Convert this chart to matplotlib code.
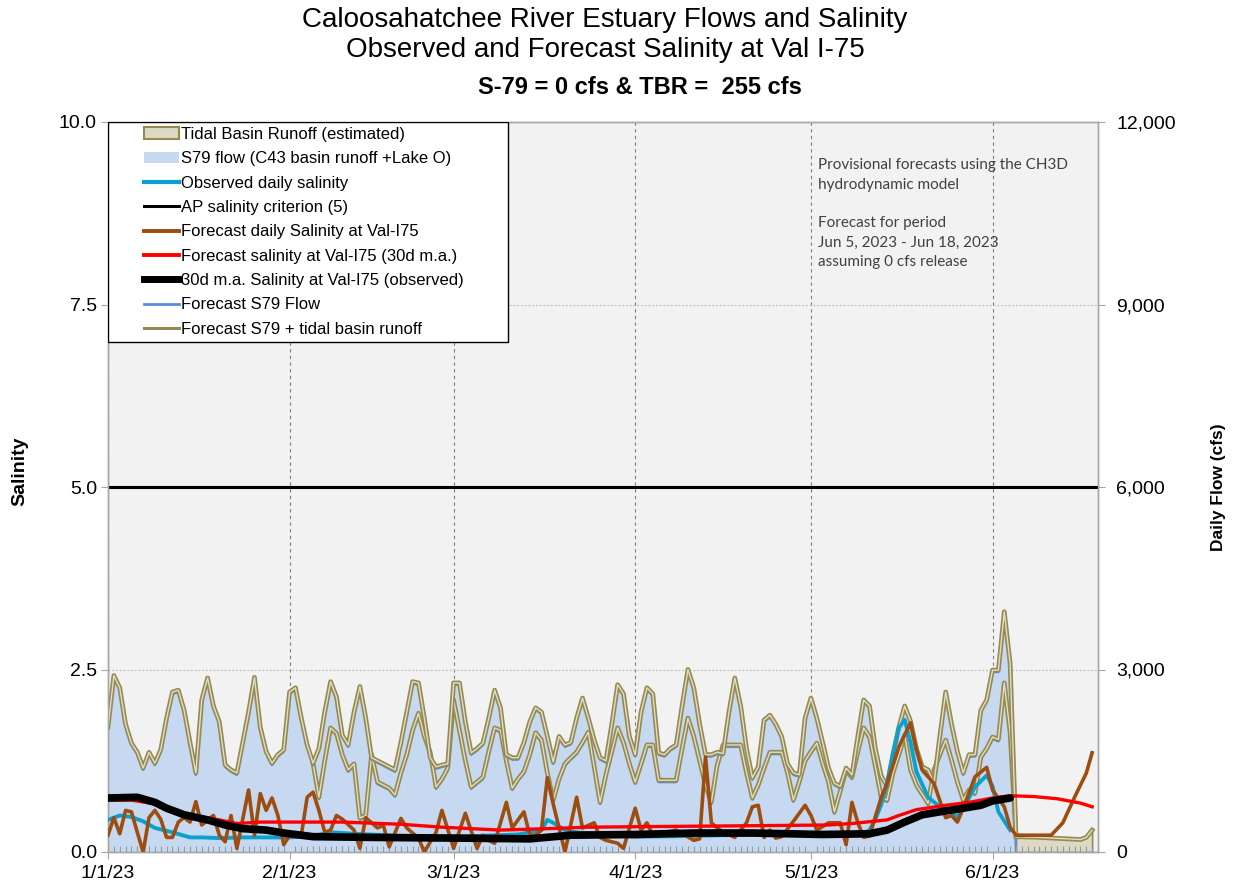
import numpy as np
import pandas as pd
import matplotlib
matplotlib.use("Agg")
import matplotlib.pyplot as plt
import matplotlib.dates as mdates
from matplotlib.patches import Patch, Rectangle
from matplotlib.lines import Line2D
from matplotlib.ticker import StrMethodFormatter
from matplotlib.transforms import offset_copy

plt.rcParams['font.family'] = ['Liberation Sans', 'DejaVu Sans']

# data (day offsets from 1/1/23)
start = pd.Timestamp('2023-01-01')

# S79 flow (observed, cfs), one value per day from day 0 to day 154
s79_flow = [2050, 2900, 2700, 2100, 1790, 1640, 1380, 1640, 1460, 1680,
            2200, 2630, 2660, 2330, 1800, 1300, 2500, 2860, 2400, 2140,
            1430, 1350, 1300, 1800, 2300, 2870, 2050, 1650, 1460, 1600,
            1680, 2630, 2700, 2200, 1760, 1460, 1700, 2300, 2800, 2550,
            1920, 1760, 2300, 2720, 2200, 1550, 1500, 1450, 1400, 1350,
            1800, 2300, 2800, 2780, 2200, 1550, 1400, 1430, 1450, 2780,
            2780, 2140, 1630, 1700, 1790, 2200, 2660, 2370, 1600, 1550,
            1550, 1800, 2140, 2370, 2300, 1900, 1480, 1900, 1760, 1800,
            2200, 2530, 2200, 1840, 1550, 1500, 2100, 2750, 2600, 1900,
            1600, 2300, 2700, 2600, 1630, 1600, 1700, 1760, 2400, 3000,
            2700, 2100, 1600, 1600, 1640, 1620, 2300, 2860, 2400, 1700,
            1220, 1400, 2170, 2250, 2100, 1900, 1450, 1300, 1270, 2200,
            2530, 2200, 1800, 1380, 1130, 1080, 1380, 1270, 1900, 2500,
            2400, 1700, 1250, 1080, 1600, 2050, 2400, 2150, 1700, 1400,
            1350, 1130, 1900, 2630, 2100, 1650, 1300, 1600, 1600, 2330,
            2500, 2990, 2990, 3950, 3100]
s79_days = list(range(0, 155))

# second flow trace (cfs), day 35 to day 155
flow_b = [1460, 900, 1500, 2040, 1950, 1600, 1350, 1450, 560, 600,
          1600, 1150, 1100, 1050, 940, 1300, 1600, 2000, 2280, 1900,
          1640, 1070, 1200, 1380, 2500, 2000, 1500, 1070, 1150, 1230,
          1650, 2040, 2000, 1500, 1050, 1200, 1320, 1600, 1960, 1840,
          1300, 855, 1200, 1450, 1550, 1640, 1800, 1970, 1400, 820,
          1270, 1650, 2040, 1800, 1450, 1150, 1450, 1760, 1760, 1180,
          1180, 1180, 1180, 1700, 2200, 1900, 1500, 1100, 820, 1430,
          1760, 1760, 1760, 1760, 1300, 890, 1100, 1380, 1640, 1640,
          1640, 1300, 855, 1150, 1500, 1650, 1790, 1450, 1150, 660,
          1000, 1350, 1230, 1650, 2040, 1890, 1400, 900, 855, 1300,
          1600, 1920, 1350, 1100, 950, 800, 1350, 1600, 1840, 1510,
          1150, 855, 1020, 970, 1560, 1700, 1890, 1850, 2780, 1960, 250]
flow_b_days = list(range(35, 156))

# forecast period: S79 = 0, tidal basin runoff (cfs)
fc_days = list(range(155, 169))
fc_s79 = [0, 0, 0, 0, 0, 0, 0, 0, 0, 0, 0, 0, 0, 0]
fc_tbr = [250, 250, 245, 245, 240, 235, 230, 225, 220, 215, 210, 205, 240, 360]

# observed daily salinity
obs_days = [0, 2, 4, 6, 8, 11, 14, 16, 19, 23, 31, 35, 38, 42, 50, 60, 70, 74,
            75, 76, 78, 80, 90, 100, 110, 120, 126, 129, 130, 131, 132, 133,
            134, 135, 136, 137, 138, 140, 142, 144, 145, 146, 148, 150, 151,
            152, 154]
obs_sal = [0.44, 0.5, 0.48, 0.42, 0.33, 0.27, 0.2, 0.2, 0.19, 0.2, 0.2, 0.22,
           0.27, 0.25, 0.22, 0.21, 0.24, 0.3, 0.44, 0.4, 0.3, 0.27, 0.21, 0.22,
           0.24, 0.25, 0.22, 0.26, 0.3, 0.45, 0.65, 0.95, 1.35, 1.7, 1.81, 1.5,
           1.1, 0.75, 0.62, 0.55, 0.48, 0.6, 0.89, 1.05, 0.9, 0.55, 0.3]

# forecast daily salinity at Val-I75
fd_days = [0, 1, 2, 3, 4, 5, 6, 7, 8, 9, 10, 11, 12, 13, 14, 15, 16, 18, 19,
           20, 21, 22, 24, 25, 26, 27, 28, 29, 30, 31, 33, 34, 35, 36, 37, 38,
           39, 40, 42, 43, 44, 45, 46, 47, 48, 50, 51, 53, 54, 56, 57, 59, 61,
           63, 64, 65, 66, 68, 69, 71, 72, 73, 74, 75, 76, 78, 80, 81, 83, 84,
           85, 87, 88, 90, 91, 92, 93, 95, 97, 100, 101, 102, 103, 104, 105,
           107, 109, 110, 111, 112, 113, 114, 115, 117, 119, 120, 121, 123,
           125, 126, 127, 128, 129, 130, 132, 133, 135, 137, 138, 139, 141,
           143, 144, 145, 146, 148, 150, 151, 153, 154, 155, 161, 163, 165,
           167, 168]
fd_sal = [0.23, 0.47, 0.25, 0.57, 0.55, 0.27, 0.0, 0.47, 0.57, 0.45, 0.2, 0.2,
          0.41, 0.47, 0.41, 0.69, 0.37, 0.5, 0.23, 0.14, 0.5, 0.05, 0.85, 0.23,
          0.8, 0.57, 0.74, 0.5, 0.1, 0.23, 0.23, 0.75, 0.82, 0.57, 0.27, 0.3,
          0.5, 0.45, 0.3, 0.05, 0.47, 0.4, 0.33, 0.37, 0.07, 0.46, 0.33, 0.19,
          0.0, 0.27, 0.57, 0.05, 0.53, 0.05, 0.23, 0.16, 0.12, 0.68, 0.33,
          0.55, 0.23, 0.23, 0.3, 1.02, 0.66, 0.0, 0.75, 0.33, 0.4, 0.2, 0.16,
          0.12, 0.05, 0.6, 0.3, 0.4, 0.23, 0.27, 0.3, 0.16, 0.18, 1.3, 0.4,
          0.33, 0.27, 0.2, 0.4, 0.62, 0.64, 0.2, 0.3, 0.19, 0.21, 0.42, 0.64,
          0.5, 0.3, 0.4, 0.4, 0.1, 0.68, 0.4, 0.2, 0.22, 0.75, 0.94, 1.44,
          1.77, 1.4, 1.12, 0.94, 0.47, 0.5, 0.41, 0.6, 1.03, 1.16, 0.85, 0.62,
          0.34, 0.23, 0.23, 0.4, 0.75, 1.08, 1.36]

# forecast salinity 30d moving average
fma_days = [0, 4, 8, 10, 13, 16, 19, 22, 26, 40, 50, 57, 67, 75, 82, 95, 110,
            123, 127, 133, 135, 138, 143, 147, 151, 154, 158, 162, 166, 168]
fma_sal = [0.71, 0.71, 0.66, 0.6, 0.53, 0.48, 0.44, 0.39, 0.41, 0.41, 0.38,
           0.34, 0.3, 0.32, 0.34, 0.35, 0.36, 0.37, 0.39, 0.44, 0.5, 0.58,
           0.64, 0.68, 0.74, 0.77, 0.76, 0.73, 0.67, 0.62]

# observed salinity 30d moving average
oma_days = [0, 5, 8, 10, 13, 17, 20, 23, 27, 30, 35, 45, 60, 72, 79, 90, 100,
            110, 122, 130, 133, 136, 139, 142, 146, 149, 151, 154]
oma_sal = [0.74, 0.75, 0.68, 0.6, 0.51, 0.44, 0.37, 0.32, 0.3, 0.26, 0.21, 0.2,
           0.19, 0.18, 0.23, 0.24, 0.26, 0.26, 0.24, 0.25, 0.3, 0.41, 0.51,
           0.55, 0.6, 0.64, 0.7, 0.74]

ap_criterion = 5.0

legend_labels = ['Tidal Basin Runoff (estimated)',
                 'S79 flow (C43 basin runoff +Lake O)',
                 'Observed daily salinity',
                 'AP salinity criterion (5)',
                 'Forecast daily Salinity at Val-I75',
                 'Forecast salinity at Val-I75 (30d m.a.)',
                 '30d m.a. Salinity at Val-I75 (observed)',
                 'Forecast S79 Flow',
                 'Forecast S79 + tidal basin runoff']

note = ("Provisional forecasts using the CH3D\nhydrodynamic model\n\n"
        "Forecast for period\nJun 5, 2023 - Jun 18, 2023\nassuming 0 cfs release")


def to_dates(days):
    return start + pd.to_timedelta(np.asarray(days), unit='D')


OLIVE = '#948a54'
OLIVE_IN = '#e4ddc2'
BLUE = '#558ed5'
FILL = '#c6d9f0'
TAN = '#ddd9c3'
CYAN = '#0aa0d2'
BROWN = '#9c4d0f'
GRID = '#a6a6a6'
NARROW = ['Liberation Sans Narrow', 'Liberation Sans']

fig = plt.figure(figsize=(12.39, 8.92), dpi=100)
ax = fig.add_axes([108 / 1239, 40 / 892, 990 / 1239, 730 / 892])
ax2 = ax.twinx()

ax.set_facecolor('#f2f2f2')
ax.set_axisbelow(True)

# flows on ax (behind)
all_days = s79_days + fc_days
all_s79 = s79_flow + fc_s79
total_flow = s79_flow + fc_tbr

ax.fill_between(to_dates(all_days), 0, all_s79, color=FILL, lw=0, zorder=1)
ax.fill_between(to_dates(fc_days), 0, fc_tbr, facecolor=TAN, edgecolor=OLIVE,
                lw=1.2, zorder=1)

below = offset_copy(ax.transData, fig=fig, x=0, y=-2, units='dots')
ax.plot(to_dates(flow_b_days), flow_b, color=BLUE, lw=1.6, transform=below, zorder=2)
ax.plot(to_dates(flow_b_days), flow_b, color=OLIVE, lw=3.4, zorder=2)
ax.plot(to_dates(flow_b_days), flow_b, color=OLIVE_IN, lw=1.0, zorder=2)
ax.plot(to_dates(all_days), all_s79, color=BLUE, lw=1.6, transform=below, zorder=3)
ax.plot(to_dates(all_days), total_flow, color=OLIVE, lw=3.4, zorder=3)
ax.plot(to_dates(all_days), total_flow, color=OLIVE_IN, lw=1.0, zorder=3)

# salinity on ax2
ax2.axhline(ap_criterion, color='black', lw=2.2, zorder=2)
ax2.plot(to_dates(obs_days), obs_sal, color=CYAN, lw=2.8, zorder=3)
ax2.plot(to_dates(fd_days), fd_sal, color=BROWN, lw=2.6, zorder=4)
ax2.plot(to_dates(fma_days), fma_sal, color='#ff0000', lw=2.4, zorder=5)
ax2.plot(to_dates(oma_days), oma_sal, color='black', lw=5.5, zorder=6,
         solid_capstyle='round')

# axes
ax.set_xlim(start, start + pd.Timedelta(days=169))
ax.set_ylim(0, 12000)
ax2.set_ylim(0, 10)
ax.yaxis.tick_right()
ax.yaxis.set_label_position('right')
ax2.yaxis.tick_left()
ax2.yaxis.set_label_position('left')

ax.set_yticks([0, 3000, 6000, 9000, 12000])
ax.yaxis.set_major_formatter(StrMethodFormatter('{x:,.0f}'))
ax2.set_yticks([0, 2.5, 5, 7.5, 10])
ax2.yaxis.set_major_formatter(StrMethodFormatter('{x:.1f}'))

ax.xaxis.set_major_locator(mdates.MonthLocator())
ax.xaxis.set_major_formatter(mdates.DateFormatter('%-m/%-d/%y'))
ax.xaxis.set_minor_locator(mdates.DayLocator())

ax.grid(True, axis='y', linestyle=(0, (1.5, 1.5)), color='#bfbfbf', lw=0.9)
ax.grid(True, axis='x', which='major', linestyle=(0, (3, 3)), color='#7f7f7f', lw=0.8)

ax.tick_params(axis='x', which='major', direction='out', length=5, color=GRID,
               labelsize=14, pad=4)
ax.tick_params(axis='x', which='minor', length=0)
ax.tick_params(axis='y', direction='out', length=5, color=GRID, labelsize=14, pad=8)
ax2.tick_params(axis='y', direction='out', length=5, color=GRID, labelsize=14, pad=3)

# daily minor ticks drawn above the fill
ax2.xaxis.set_visible(True)
ax2.tick_params(axis='x', which='major', length=0, labelbottom=False)
ax2.tick_params(axis='x', which='minor', direction='in', length=4, width=0.8,
                color='#8c9aab')

for a in (ax, ax2):
    for s in a.spines.values():
        s.set_color(GRID)
        s.set_linewidth(1.0)

# legend with its own frame
handles = [Patch(facecolor=TAN, edgecolor=OLIVE, lw=1.5),
           Patch(facecolor=FILL, edgecolor='none'),
           Line2D([], [], color=CYAN, lw=3),
           Line2D([], [], color='black', lw=2.2),
           Line2D([], [], color=BROWN, lw=2.8),
           Line2D([], [], color='#ff0000', lw=2.8),
           Line2D([], [], color='black', lw=5),
           Line2D([], [], color=BLUE, lw=2),
           Line2D([], [], color=OLIVE, lw=2.2)]
frame = Rectangle((0, 1 - 220 / 730), 400 / 990, 220 / 730, transform=ax2.transAxes,
                  facecolor='white', edgecolor='black', lw=1.0, zorder=8)
ax2.add_patch(frame)
leg = ax2.legend(handles, legend_labels, loc='upper left',
                 bbox_to_anchor=(0.036, 0.993), frameon=False, fontsize=12,
                 handlelength=2.1, handletextpad=0.12, labelspacing=0.56,
                 borderpad=0, borderaxespad=0)
leg.set_zorder(9)

ax2.text(0.717, 0.95, note, transform=ax2.transAxes, ha='left', va='top',
         fontsize=11, family=['Lato', 'DejaVu Sans'], color='#404040',
         linespacing=1.48)

# titles and axis labels
fig.text(605 / 1239, 1 - 20 / 892, 'Caloosahatchee River Estuary Flows and Salinity',
         ha='center', va='center', fontsize=20, family=NARROW)
fig.text(605 / 1239, 1 - 50 / 892, 'Observed and Forecast Salinity at Val I-75',
         ha='center', va='center', fontsize=20, family=NARROW)
fig.text(640 / 1239, 1 - 88 / 892, 'S-79 = 0 cfs & TBR =  255 cfs',
         ha='center', va='center', fontsize=17, fontweight='bold', family=NARROW)
fig.text(20 / 1239, 1 - 471 / 892, 'Salinity', rotation=90, ha='center',
         va='center', fontsize=14, fontweight='bold')
fig.text(1218 / 1239, 1 - 487 / 892, 'Daily Flow (cfs)', rotation=90, ha='center',
         va='center', fontsize=12.5, fontweight='bold')

fig.savefig('out.png', dpi=100)
